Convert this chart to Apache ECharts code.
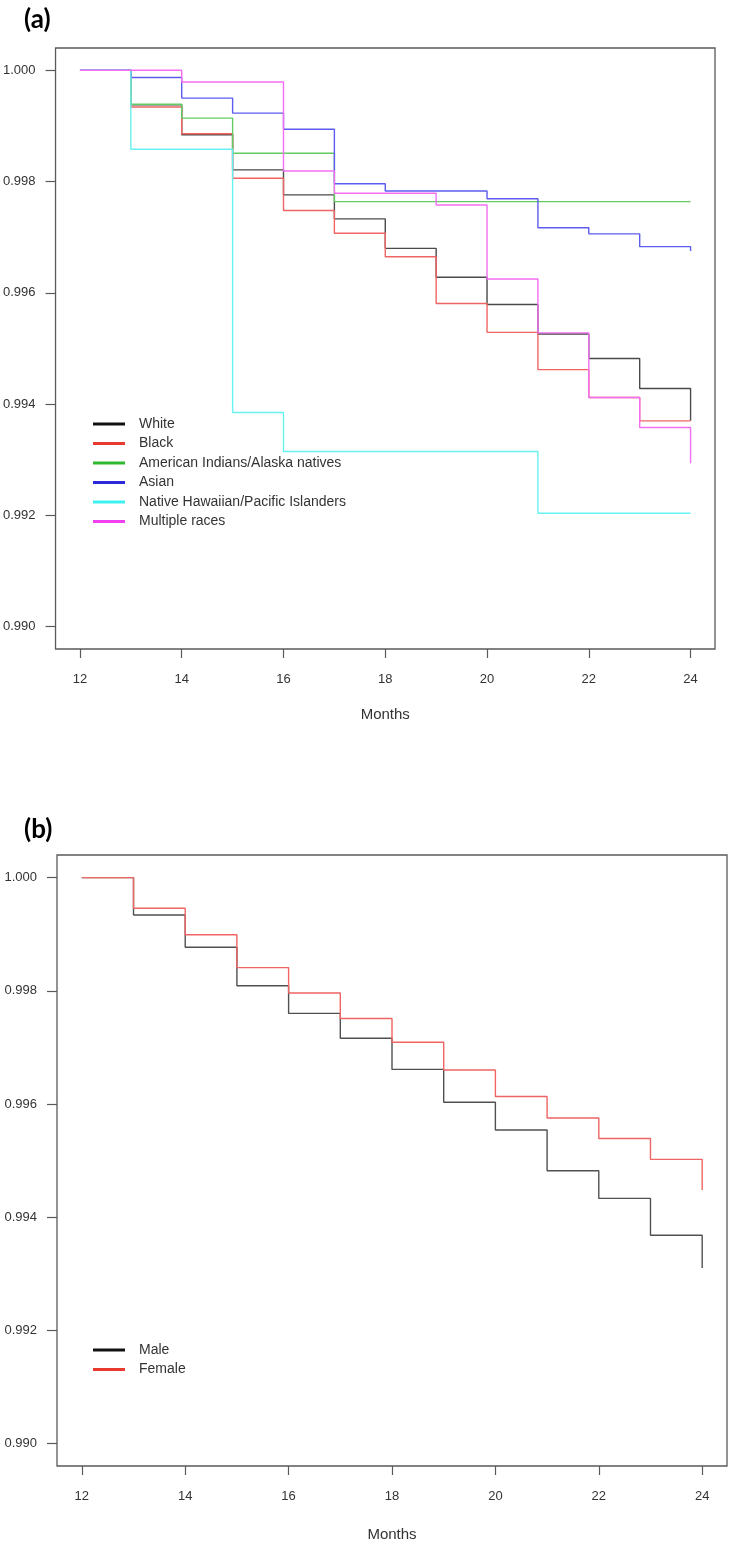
<!DOCTYPE html>
<html>
<head>
<meta charset="utf-8">
<script src="https://cdn.jsdelivr.net/npm/echarts@6/dist/echarts.min.js"></script>
<style>
html,body{margin:0;padding:0;background:#fff;}
#chart{width:733px;height:1546px;}
</style>
</head>
<body>
<div id="chart"></div>
<script>
// ---- data ----
const months = [12, 13, 14, 15, 16, 17, 18, 19, 20, 21, 22, 23, 24];
const xTicks = [12, 14, 16, 18, 20, 22, 24];
const yTicks = [0.990, 0.992, 0.994, 0.996, 0.998, 1.000];

// Panel (a): race
const raceNames = ["White", "Black", "American Indians/Alaska natives", "Asian", "Native Hawaiian/Pacific Islanders", "Multiple races"];
const white    = [1.000, 0.99938, 0.99884, 0.99821, 0.99776, 0.99733, 0.99680, 0.99628, 0.99579, 0.99526, 0.99482, 0.99428, 0.99370];
const black    = [1.000, 0.99934, 0.99886, 0.99806, 0.99748, 0.99707, 0.99665, 0.99581, 0.99529, 0.99462, 0.99412, 0.99370, 0.99370];
const amIndian = [1.000, 0.99939, 0.99914, 0.99851, 0.99851, 0.99764, 0.99764, 0.99764, 0.99764, 0.99764, 0.99764, 0.99764, 0.99764];
const asian    = [1.000, 0.99987, 0.99950, 0.99923, 0.99894, 0.99796, 0.99783, 0.99783, 0.99769, 0.99717, 0.99706, 0.99683, 0.99675];
const hawaiian = [1.000, 0.99858, 0.99858, 0.99385, 0.99315, 0.99315, 0.99315, 0.99315, 0.99315, 0.99204, 0.99204, 0.99204, 0.99204];
const multiple = [1.000, 1.000, 0.99979, 0.99979, 0.99819, 0.99779, 0.99779, 0.99758, 0.99625, 0.99528, 0.99412, 0.99358, 0.99294];

// Panel (b): sex
const sexNames = ["Male", "Female"];
const male   = [1.000, 0.99934, 0.99877, 0.99809, 0.99760, 0.99716, 0.99661, 0.99603, 0.99554, 0.99482, 0.99433, 0.99368, 0.99310];
const female = [1.000, 0.99946, 0.99899, 0.99841, 0.99796, 0.99751, 0.99709, 0.99660, 0.99613, 0.99575, 0.99539, 0.99502, 0.99448];

// ---- styling ----
const raceLineColors   = ["#4a4a4a", "#f06464", "#62cc62", "#5c5cf0", "#66f2f2", "#f46ef4"];
const raceLegendColors = ["#111111", "#e8392f", "#2db82d", "#2a2ad8", "#3ff0f0", "#f040f0"];
const sexLineColors    = ["#505050", "#f06464"];
const sexLegendColors  = ["#111111", "#e8392f"];

const FONT = "'Liberation Sans', Arial, sans-serif";
const axisGrey = "#5a5a5a";

function pairs(vals) { return months.map((m, i) => [m, vals[i]]); }

function xAxisDef(gridIndex, nameGap) {
  return {
    type: 'value', gridIndex: gridIndex, min: 11.52, max: 24.48,
    name: 'Months', nameLocation: 'middle', nameGap: nameGap,
    nameTextStyle: { fontFamily: FONT, fontSize: 15, color: '#333' },
    axisLine: { show: false },
    axisTick: { show: true, customValues: xTicks, length: 9, inside: false,
                lineStyle: { color: axisGrey, width: 1.2 } },
    axisLabel: { show: true, customValues: xTicks, margin: 24,
                 fontFamily: FONT, fontSize: 13, color: '#333',
                 formatter: v => String(v) },
    splitLine: { show: false }
  };
}
function yAxisDef(gridIndex) {
  return {
    type: 'value', gridIndex: gridIndex, min: 0.9896, max: 1.0004,
    axisLine: { show: false },
    axisTick: { show: true, customValues: yTicks, length: 10, inside: false,
                lineStyle: { color: axisGrey, width: 1.2 } },
    axisLabel: { show: true, customValues: yTicks, margin: 20,
                 fontFamily: FONT, fontSize: 13, color: '#333',
                 formatter: v => Number(v).toFixed(3) },
    splitLine: { show: false }
  };
}

const series = [];
const raceData = [white, black, amIndian, asian, hawaiian, multiple];
raceNames.forEach((n, i) => {
  series.push({
    name: n, type: 'line', step: 'end', xAxisIndex: 0, yAxisIndex: 0,
    data: pairs(raceData[i]), symbol: 'none', silent: true,
    lineStyle: { color: raceLineColors[i], width: 1.4 },
    itemStyle: { color: raceLineColors[i] }
  });
});
const sexData = [male, female];
sexNames.forEach((n, i) => {
  series.push({
    name: n, type: 'line', step: 'end', xAxisIndex: 1, yAxisIndex: 1,
    data: pairs(sexData[i]), symbol: 'none', silent: true,
    lineStyle: { color: sexLineColors[i], width: 1.4 },
    itemStyle: { color: sexLineColors[i] }
  });
});

function legendDef(names, colors, top) {
  return {
    orient: 'vertical', left: 93, top: top, itemGap: 3.5, padding: 0,
    itemWidth: 32, itemHeight: 3, icon: 'rect',
    selectedMode: false,
    textStyle: { fontFamily: FONT, fontSize: 14, color: '#333', lineHeight: 16, padding: [0, 0, 0, 9] },
    data: names.map((n, i) => ({ name: n, itemStyle: { color: colors[i] } }))
  };
}

const option = {
  animation: false,
  backgroundColor: '#ffffff',
  title: [
    { text: '(a)', left: 19, top: 2, textStyle: { fontFamily: "Lato, 'Open Sans', sans-serif", fontWeight: 'bold', fontSize: 26, color: '#000' } },
    { text: '(b)', left: 19, top: 812, textStyle: { fontFamily: "Lato, 'Open Sans', sans-serif", fontWeight: 'bold', fontSize: 26, color: '#000' } }
  ],
  grid: [
    { left: 55, top: 48, width: 660, height: 601, show: true, borderColor: axisGrey, borderWidth: 1.3, backgroundColor: 'transparent', containLabel: false },
    { left: 57, top: 855, width: 670, height: 611, show: true, borderColor: axisGrey, borderWidth: 1.3, backgroundColor: 'transparent', containLabel: false }
  ],
  xAxis: [xAxisDef(0, 58), xAxisDef(1, 61)],
  yAxis: [yAxisDef(0), yAxisDef(1)],
  legend: [legendDef(raceNames, raceLegendColors, 416), legendDef(sexNames, sexLegendColors, 1342)],
  series: series
};

const chart = echarts.init(document.getElementById('chart'), null, { renderer: 'canvas' });
chart.setOption(option);
</script>
</body>
</html>
